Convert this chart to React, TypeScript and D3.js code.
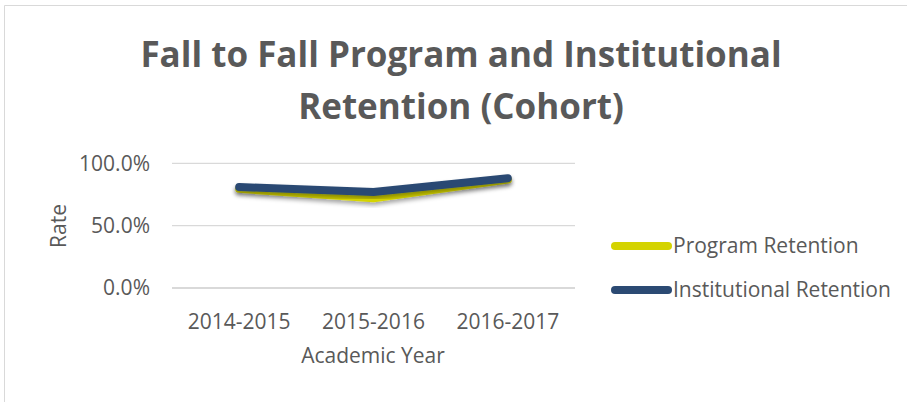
import React, { useEffect, useRef } from "react";
import * as d3 from "d3";

const categories = ["2014-2015", "2015-2016", "2016-2017"];
const programRetention = [0.795, 0.72, 0.87];
const institutionalRetention = [0.81, 0.77, 0.88];
const yTicks = [0, 0.5, 1.0];
const seriesNames = ["Program Retention", "Institutional Retention"];
const seriesColors = ["#d4d300", "#2b4a73"];

const W = 907;
const H = 402;

export default function App() {
  const ref = useRef<SVGSVGElement>(null);
  useEffect(() => {
    const svg = d3.select(ref.current);
    svg.selectAll("*").remove();
    const font = "'Open Sans', sans-serif";
    const textColor = "#595959";
    const fs = 21;

    const defs = svg.append("defs");
    const f = defs.append("filter").attr("id", "shadow").attr("x", "-10%").attr("y", "-50%").attr("width", "120%").attr("height", "200%");
    f.append("feDropShadow").attr("dx", 0).attr("dy", 3).attr("stdDeviation", 2).attr("flood-color", "#000").attr("flood-opacity", 0.35);

    svg.append("rect").attr("x", 0).attr("y", 0).attr("width", W).attr("height", H).attr("fill", "#fff");
    svg.append("path").attr("d", `M4.5,${H} L4.5,5.5 L${W},5.5`).attr("fill", "none").attr("stroke", "#d9d9d9").attr("stroke-width", 1);

    const title = svg.append("text").attr("text-anchor", "middle").attr("font-family", font).attr("font-weight", "bold").attr("font-size", 35).attr("fill", textColor);
    title.append("tspan").attr("x", 461).attr("y", 67).text("Fall to Fall Program and Institutional");
    title.append("tspan").attr("x", 461).attr("y", 119).text("Retention (Cohort)");

    const x = d3.scaleBand().domain(categories).range([172, 575]);
    const y = d3.scaleLinear().domain([0, 1]).range([288, 163.3]);

    svg.append("g").selectAll("line").data(yTicks).join("line")
      .attr("x1", 172).attr("x2", 575)
      .attr("y1", (d) => y(d)).attr("y2", (d) => y(d))
      .attr("stroke", "#d9d9d9").attr("stroke-width", (d) => (d === 0 ? 2 : 1.3));

    svg.append("g").selectAll("text").data(yTicks).join("text")
      .attr("x", 150).attr("y", (d) => y(d)).attr("dy", "0.35em")
      .attr("text-anchor", "end").attr("font-family", font).attr("font-size", fs).attr("fill", textColor)
      .text((d) => d3.format(".1%")(d));

    svg.append("g").selectAll("text").data(categories).join("text")
      .attr("x", (d) => (x(d) as number) + x.bandwidth() / 2).attr("y", 329)
      .attr("text-anchor", "middle").attr("font-family", font).attr("font-size", fs).attr("fill", textColor)
      .text((d) => d);

    svg.append("text").attr("transform", "translate(66,226) rotate(-90)").attr("text-anchor", "middle")
      .attr("font-family", font).attr("font-size", fs).attr("fill", textColor).text("Rate");
    svg.append("text").attr("x", 373).attr("y", 363).attr("text-anchor", "middle")
      .attr("font-family", font).attr("font-size", fs).attr("fill", textColor).text("Academic Year");

    const line = d3.line<number>()
      .x((_, i) => (x(categories[i]) as number) + x.bandwidth() / 2)
      .y((d) => y(d));

    [programRetention, institutionalRetention].forEach((s, i) => {
      svg.append("path").datum(s).attr("d", line).attr("fill", "none")
        .attr("stroke", seriesColors[i]).attr("stroke-width", 8)
        .attr("stroke-linecap", "round").attr("stroke-linejoin", "round")
        .attr("filter", "url(#shadow)");
    });

    const lg = svg.append("g");
    seriesNames.forEach((n, i) => {
      const ly = 246 + i * 44;
      lg.append("line").attr("x1", 615).attr("x2", 668).attr("y1", ly).attr("y2", ly)
        .attr("stroke", seriesColors[i]).attr("stroke-width", 8).attr("stroke-linecap", "round");
      lg.append("text").attr("x", 673).attr("y", ly).attr("dy", "0.35em")
        .attr("font-family", font).attr("font-size", fs).attr("fill", textColor).text(n);
    });
  }, []);

  return <svg ref={ref} width={W} height={H} style={{ position: "absolute", left: 0, top: 0 }} />;
}
